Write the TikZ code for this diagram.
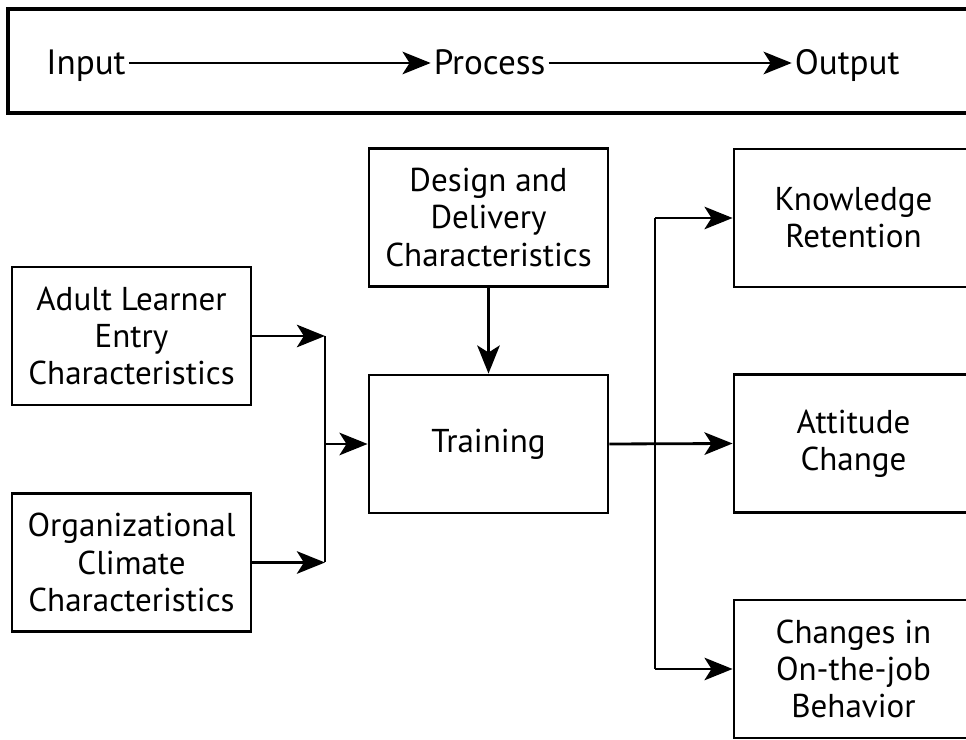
\documentclass[tikz,border=0pt]{standalone}
\usepackage{fontspec}
\setmainfont{PT Sans}
\usetikzlibrary{arrows.meta}

\tikzset{
	block/.style={draw, line width=2pt, minimum width=5.975cm, minimum height=3.45cm, align=center, font=\fontsize{23.5}{26.5}\selectfont},
	stage/.style={inner sep=2pt, text height=22pt, text depth=6pt, font=\fontsize{25}{30}\selectfont},
	flow/.style={line width=2pt, -{Stealth[length=20pt,width=16pt,inset=5pt]}},
	link/.style={line width=2pt}
}

\begin{document}
\begin{tikzpicture}
		\useasboundingbox (0,0) rectangle (24.15,18.5);
		\clip (0,0) rectangle (24.15,18.5);

		\draw[line width=2.2pt] (0.2,15.675) rectangle (26,18.275);
		\node[stage] (input) at (2.15,16.925) {Input};
		\node[stage] (process) at (12.24,16.925) {Process};
		\node[stage] (output) at (21.18,16.925) {Output};
		\draw[flow] (input) -- (process);
		\draw[flow] (process) -- (output);

		\node[block] (adult) at (3.2875,10.1) {Adult Learner\\Entry\\Characteristics};
		\node[block] (climate) at (3.2875,4.4375) {Organizational\\Climate\\Characteristics};
		\node[block] (design) at (12.2125,13.0625) {Design and\\Delivery\\Characteristics};
		\node[block] (training) at (12.2125,7.4) {Training};

		\foreach \name/\y/\txt in {knowledge/13.05/{Knowledge\\Retention}, attitude/7.4125/{Attitude\\Change}, behavior/1.775/{Changes in\\On-the-job\\Behavior}} {
				\node[block] (\name) at (21.3375,\y) {\txt};
			}

		\coordinate (join) at (8.125,7.4);
		\coordinate (split) at (16.375,7.4);

		\draw[flow] (design) -- (training);
		\draw[flow] (adult.east) -- (adult.east -| join);
		\draw[flow] (climate.east) -- (climate.east -| join);
		\draw[link] (adult.east -| join) -- (climate.east -| join);
		\draw[flow] (join) -- (training.west);

		\draw[flow] (training.east) -- (attitude.west);
		\draw[link] (split |- knowledge.west) -- (split |- behavior.west);
		\draw[flow] (split |- knowledge.west) -- (knowledge.west);
		\draw[flow] (split |- behavior.west) -- (behavior.west);
	\end{tikzpicture}
\end{document}
